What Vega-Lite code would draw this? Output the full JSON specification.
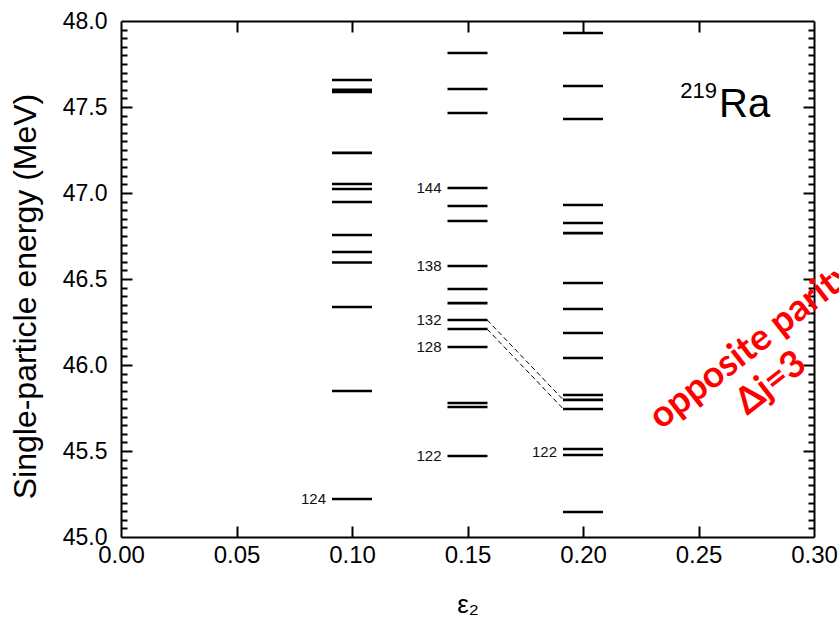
{
  "$schema": "https://vega.github.io/schema/vega-lite/v6.json",
  "width": 693,
  "height": 516,
  "autosize": {"type": "none"},
  "padding": {"left": 121, "top": 21, "right": 25, "bottom": 93},
  "background": "white",
  "config": {
    "view": {"stroke": null},
    "font": "Liberation Sans",
    "axis": {"grid": false, "domainColor": "black", "domainWidth": 2, "tickColor": "black", "tickWidth": 2, "tickOpacity": 1, "labelColor": "black", "titleColor": "black", "labelFont": "Liberation Sans", "titleFont": "Liberation Sans", "titleFontWeight": "normal", "labelOverlap": false, "labelFlush": false}
  },
  "resolve": {"axis": {"x": "independent", "y": "independent"}},
  "layer": [
    {
      "data": {"values": [
        {"eps": 0.10, "E": 47.657}, {"eps": 0.10, "E": 47.600}, {"eps": 0.10, "E": 47.588}, {"eps": 0.10, "E": 47.233},
        {"eps": 0.10, "E": 47.052}, {"eps": 0.10, "E": 47.023}, {"eps": 0.10, "E": 46.948}, {"eps": 0.10, "E": 46.756},
        {"eps": 0.10, "E": 46.657}, {"eps": 0.10, "E": 46.596}, {"eps": 0.10, "E": 46.337}, {"eps": 0.10, "E": 45.849},
        {"eps": 0.10, "E": 45.221},
        {"eps": 0.15, "E": 47.814}, {"eps": 0.15, "E": 47.605}, {"eps": 0.15, "E": 47.465}, {"eps": 0.15, "E": 47.029},
        {"eps": 0.15, "E": 46.924}, {"eps": 0.15, "E": 46.837}, {"eps": 0.15, "E": 46.576}, {"eps": 0.15, "E": 46.442},
        {"eps": 0.15, "E": 46.360}, {"eps": 0.15, "E": 46.262}, {"eps": 0.15, "E": 46.209}, {"eps": 0.15, "E": 46.105},
        {"eps": 0.15, "E": 45.779}, {"eps": 0.15, "E": 45.756}, {"eps": 0.15, "E": 45.471},
        {"eps": 0.20, "E": 47.930}, {"eps": 0.20, "E": 47.622}, {"eps": 0.20, "E": 47.430}, {"eps": 0.20, "E": 46.930},
        {"eps": 0.20, "E": 46.826}, {"eps": 0.20, "E": 46.767}, {"eps": 0.20, "E": 46.477}, {"eps": 0.20, "E": 46.326},
        {"eps": 0.20, "E": 46.186}, {"eps": 0.20, "E": 46.041}, {"eps": 0.20, "E": 45.826}, {"eps": 0.20, "E": 45.797},
        {"eps": 0.20, "E": 45.744}, {"eps": 0.20, "E": 45.512}, {"eps": 0.20, "E": 45.477}, {"eps": 0.20, "E": 45.145}
      ]},
      "mark": {"type": "tick", "orient": "horizontal", "size": 40, "thickness": 2.6, "color": "black", "opacity": 1},
      "encoding": {
        "x": {"field": "eps", "type": "quantitative",
          "scale": {"domain": [0, 0.3], "nice": false, "zero": false},
          "axis": {"orient": "bottom", "values": [0, 0.05, 0.1, 0.15, 0.2, 0.25, 0.3], "format": ".2f", "labelFontSize": 24, "ticks": false, "tickSize": 0, "labelPadding": 6, "domain": true, "labelFlush": false, "title": "ε₂", "titleFontSize": 26, "titlePadding": 24}},
        "y": {"field": "E", "type": "quantitative",
          "scale": {"domain": [45, 48], "nice": false, "zero": false},
          "axis": {"orient": "left", "values": [45, 45.5, 46, 46.5, 47, 47.5, 48], "format": ".1f",
            "ticks": false, "tickSize": 0, "domain": true,
            "labelFontSize": 23, "labelPadding": 14,
            "title": "Single-particle energy (MeV)", "titleFontSize": 32, "titleX": -79, "titleY": 275, "titleBaseline": "bottom", "titleAngle": -90, "titleAlign": "center"}}
      }
    },
    {
      "data": {"values": [
        {"x1": 0.1585, "y1": 46.262, "x2": 0.1915, "y2": 45.797},
        {"x1": 0.1585, "y1": 46.209, "x2": 0.1915, "y2": 45.744}
      ]},
      "mark": {"type": "rule", "strokeDash": [5, 3], "strokeWidth": 1, "color": "black"},
      "encoding": {
        "x": {"field": "x1", "type": "quantitative",
          "axis": {"orient": "top", "offset": -516, "values": [0.05, 0.1, 0.15, 0.2, 0.25], "labels": true, "labelOpacity": 0, "labelFontSize": 6, "domain": false, "ticks": true, "tickSize": 11, "tickColor": "black", "tickWidth": 2, "title": null}},
        "y": {"field": "y1", "type": "quantitative",
          "axis": {"orient": "right", "offset": -693, "values": [45.5, 46, 46.5, 47, 47.5], "labels": true, "labelOpacity": 0, "labelFontSize": 6, "domain": false, "ticks": true, "tickSize": 11, "tickColor": "black", "tickWidth": 2, "title": null}},
        "x2": {"field": "x2"},
        "y2": {"field": "y2"}
      }
    },
    {
      "data": {"values": [
        {"eps": 0.10, "E": 45.221, "t": "124"},
        {"eps": 0.15, "E": 47.029, "t": "144"},
        {"eps": 0.15, "E": 46.576, "t": "138"},
        {"eps": 0.15, "E": 46.262, "t": "132"},
        {"eps": 0.15, "E": 46.105, "t": "128"},
        {"eps": 0.15, "E": 45.471, "t": "122"},
        {"eps": 0.20, "E": 45.494, "t": "122"}
      ]},
      "mark": {"type": "text", "align": "right", "baseline": "middle", "dx": -26, "fontSize": 15, "font": "Liberation Sans", "color": "#111"},
      "encoding": {
        "x": {"field": "eps", "type": "quantitative",
          "axis": {"orient": "bottom", "offset": -516, "values": [0.05, 0.1, 0.15, 0.2, 0.25], "labels": true, "labelOpacity": 0, "labelFontSize": 6, "domain": true, "ticks": true, "tickSize": 11, "tickColor": "black", "tickWidth": 2, "title": null}},
        "y": {"field": "E", "type": "quantitative",
          "axis": {"orient": "right", "offset": -693, "values": [45.05, 45.1, 45.15, 45.2, 45.25, 45.3, 45.35, 45.4, 45.45, 45.55, 45.6, 45.65, 45.7, 45.75, 45.8, 45.85, 45.9, 45.95, 46.05, 46.1, 46.15, 46.2, 46.25, 46.3, 46.35, 46.4, 46.45, 46.55, 46.6, 46.65, 46.7, 46.75, 46.8, 46.85, 46.9, 46.95, 47.05, 47.1, 47.15, 47.2, 47.25, 47.3, 47.35, 47.4, 47.45, 47.55, 47.6, 47.65, 47.7, 47.75, 47.8, 47.85, 47.9, 47.95], "labels": true, "labelOpacity": 0, "labelFontSize": 6, "domain": false, "ticks": true, "tickSize": 6, "tickColor": "black", "tickWidth": 2, "title": null}},
        "text": {"field": "t"}
      }
    },
    {
      "data": {"values": [{"x": 0.2580, "y": 47.552, "t": "219"}]},
      "mark": {"type": "text", "align": "right", "baseline": "alphabetic", "fontSize": 22, "font": "Liberation Sans", "color": "black"},
      "encoding": {
        "x": {"field": "x", "type": "quantitative", "axis": null},
        "y": {"field": "y", "type": "quantitative",
          "axis": {"orient": "left", "offset": -693, "values": [45.5, 46, 46.5, 47, 47.5], "labels": true, "labelOpacity": 0, "labelFontSize": 6, "domain": true, "ticks": true, "tickSize": 11, "tickColor": "black", "tickWidth": 2, "title": null}},
        "text": {"field": "t"}
      }
    },
    {
      "data": {"values": [{"x": 0.2589, "y": 47.442, "t": "Ra"}]},
      "mark": {"type": "text", "align": "left", "baseline": "alphabetic", "fontSize": 40, "font": "Liberation Sans", "color": "black"},
      "encoding": {
        "x": {"field": "x", "type": "quantitative", "axis": null},
        "y": {"field": "y", "type": "quantitative",
          "axis": {"orient": "left", "offset": -693, "values": [45.05, 45.1, 45.15, 45.2, 45.25, 45.3, 45.35, 45.4, 45.45, 45.55, 45.6, 45.65, 45.7, 45.75, 45.8, 45.85, 45.9, 45.95, 46.05, 46.1, 46.15, 46.2, 46.25, 46.3, 46.35, 46.4, 46.45, 46.55, 46.6, 46.65, 46.7, 46.75, 46.8, 46.85, 46.9, 46.95, 47.05, 47.1, 47.15, 47.2, 47.25, 47.3, 47.35, 47.4, 47.45, 47.55, 47.6, 47.65, 47.7, 47.75, 47.8, 47.85, 47.9, 47.95], "labels": true, "labelOpacity": 0, "labelFontSize": 6, "domain": false, "ticks": true, "tickSize": 6, "tickColor": "black", "tickWidth": 2, "title": null}},
        "text": {"field": "t"}
      }
    },
    {
      "data": {"values": [
        {"x": 0.2338, "y": 45.620, "t": "opposite parity"}
      ]},
      "mark": {"type": "text", "align": "left", "baseline": "alphabetic", "angle": -38, "fontSize": 37, "font": "Lato", "fontWeight": "bold", "color": "#ff0000"},
      "encoding": {
        "x": {"field": "x", "type": "quantitative", "axis": null},
        "y": {"field": "y", "type": "quantitative", "axis": null},
        "text": {"field": "t"}
      }
    },
    {
      "data": {"values": [
        {"x": 0.2844, "y": 45.843, "t": "Δj=3"}
      ]},
      "mark": {"type": "text", "align": "center", "baseline": "alphabetic", "angle": -38, "fontSize": 37, "font": "Lato", "fontWeight": "bold", "color": "#ff0000"},
      "encoding": {
        "x": {"field": "x", "type": "quantitative", "axis": null},
        "y": {"field": "y", "type": "quantitative", "axis": null},
        "text": {"field": "t"}
      }
    }
  ]
}
